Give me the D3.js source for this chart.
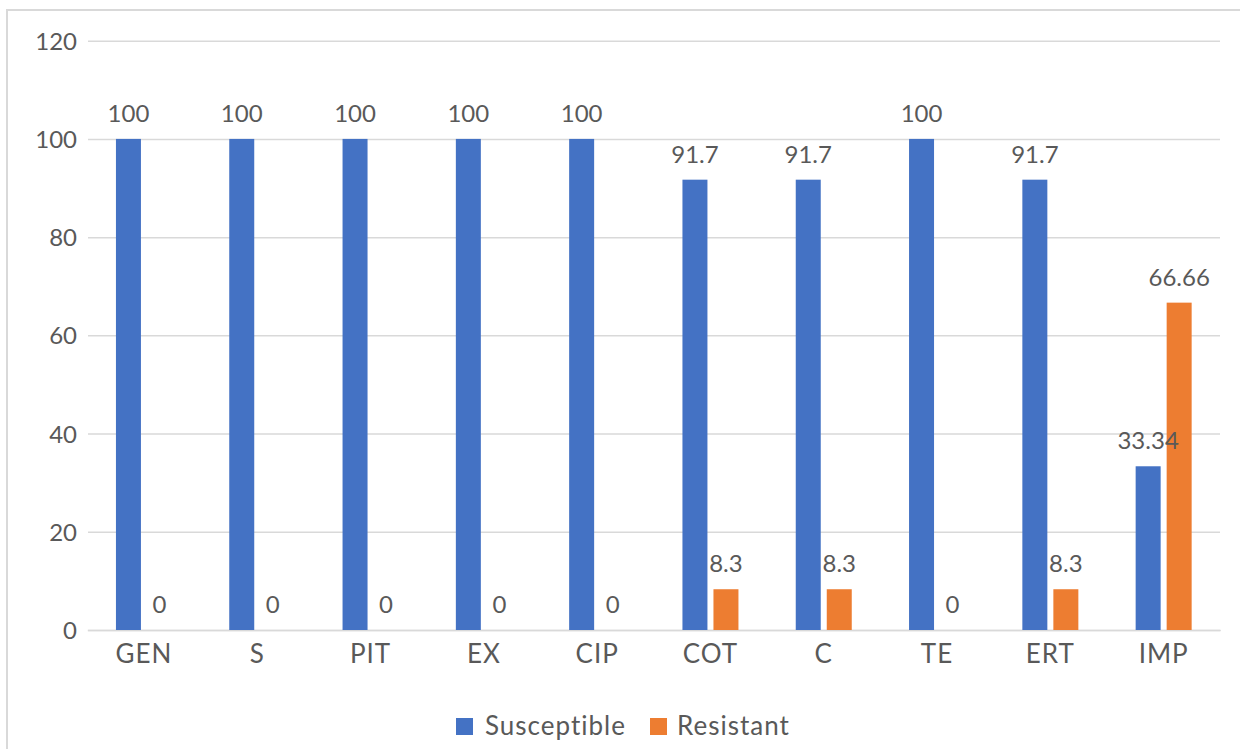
<!DOCTYPE html>
<html>
<head>
<meta charset="utf-8">
<script src="https://cdn.jsdelivr.net/npm/d3@7/dist/d3.min.js"></script>
<style>
  html, body { margin: 0; padding: 0; background: #fff; }
  svg { display: block; font-family: Lato, "Open Sans", sans-serif; }
</style>
</head>
<body>
<svg id="chart" width="1240" height="749"></svg>
<script>
// Antibiotic susceptibility profile (%)
const categories = ["GEN", "S", "PIT", "EX", "CIP", "COT", "C", "TE", "ERT", "IMP"];
const susceptible = [100, 100, 100, 100, 100, 91.7, 91.7, 100, 91.7, 33.34];
const resistant = [0, 0, 0, 0, 0, 8.3, 8.3, 0, 8.3, 66.66];
const seriesNames = ["Susceptible", "Resistant"];
const seriesColors = ["#4472C4", "#ED7D31"];
const yTicks = [0, 20, 40, 60, 80, 100, 120];

const rows = categories.map((c, i) => ({ cat: c, values: [susceptible[i], resistant[i]] }));

const svg = d3.select("#chart");
const textColor = "#595959";
const gridColor = "#d9d9d9";
const numSize = 24;
const wordSize = 26;

// outer chart frame
svg.append("rect")
  .attr("x", 7).attr("y", 10)
  .attr("width", 1300).attr("height", 800)
  .attr("fill", "none").attr("stroke", gridColor).attr("stroke-width", 2);

const x0 = d3.scaleBand().domain(categories).range([87.3, 1220.3]).paddingInner(0).paddingOuter(0);
const half = x0.bandwidth() / 2;
const x1 = d3.scaleBand().domain(seriesNames).range([half - 28, half + 28]).paddingInner(0.194).paddingOuter(0);
const y = d3.scaleLinear().domain([0, 120]).range([630, 40.7]);

// horizontal gridlines + y tick labels
const yAxis = d3.axisLeft(y).tickValues(yTicks).tickSize(-(1220 - 88)).tickPadding(11).tickFormat(d3.format("d"));
const gy = svg.append("g").attr("transform", "translate(88,0)").call(yAxis);
gy.select(".domain").remove();
gy.selectAll(".tick line").attr("stroke", gridColor).attr("stroke-width", 1.5);
gy.selectAll(".tick text")
  .attr("fill", textColor).attr("font-size", numSize)
  .attr("font-family", "Lato, sans-serif")
  .attr("dy", "0.36em");

// category axis
const xAxis = d3.axisBottom(x0).tickSize(0).tickPadding(0);
const gx = svg.append("g").attr("transform", `translate(0,${y(0)})`).call(xAxis);
gx.select(".domain").attr("stroke", gridColor).attr("stroke-width", 1.5);
gx.selectAll(".tick text")
  .attr("fill", textColor).attr("font-size", wordSize)
  .attr("letter-spacing", 1)
  .attr("font-family", "Lato, sans-serif")
  .attr("dy", 0).attr("y", 33);

// flatten the grouped values
const cellsData = rows.flatMap(d => d.values.map((v, i) => ({ cat: d.cat, v, s: seriesNames[i], i })));

// bars
svg.append("g").selectAll("rect")
  .data(cellsData).join("rect")
  .attr("x", d => x0(d.cat) + x1(d.s))
  .attr("width", x1.bandwidth())
  .attr("y", d => y(d.v))
  .attr("height", d => y(0) - y(d.v))
  .attr("fill", d => seriesColors[d.i]);

// value labels, on top of every bar
svg.append("g").selectAll("text")
  .data(cellsData).join("text")
  .attr("x", d => x0(d.cat) + x1(d.s) + x1.bandwidth() / 2)
  .attr("y", d => y(d.v) - 17)
  .attr("text-anchor", "middle")
  .attr("fill", textColor)
  .attr("font-size", numSize)
  .text(d => d.v);

// legend
const legendItems = [
  { name: seriesNames[0], color: seriesColors[0], sx: 456, tx: 485 },
  { name: seriesNames[1], color: seriesColors[1], sx: 650, tx: 677 }
];
const lg = svg.append("g").selectAll("g").data(legendItems).join("g");
lg.append("rect")
  .attr("x", d => d.sx).attr("y", 718)
  .attr("width", 17).attr("height", 17)
  .attr("fill", d => d.color);
lg.append("text")
  .attr("x", d => d.tx).attr("y", 735)
  .attr("fill", textColor).attr("font-size", wordSize)
  .attr("letter-spacing", 1)
  .text(d => d.name);
</script>
</body>
</html>
